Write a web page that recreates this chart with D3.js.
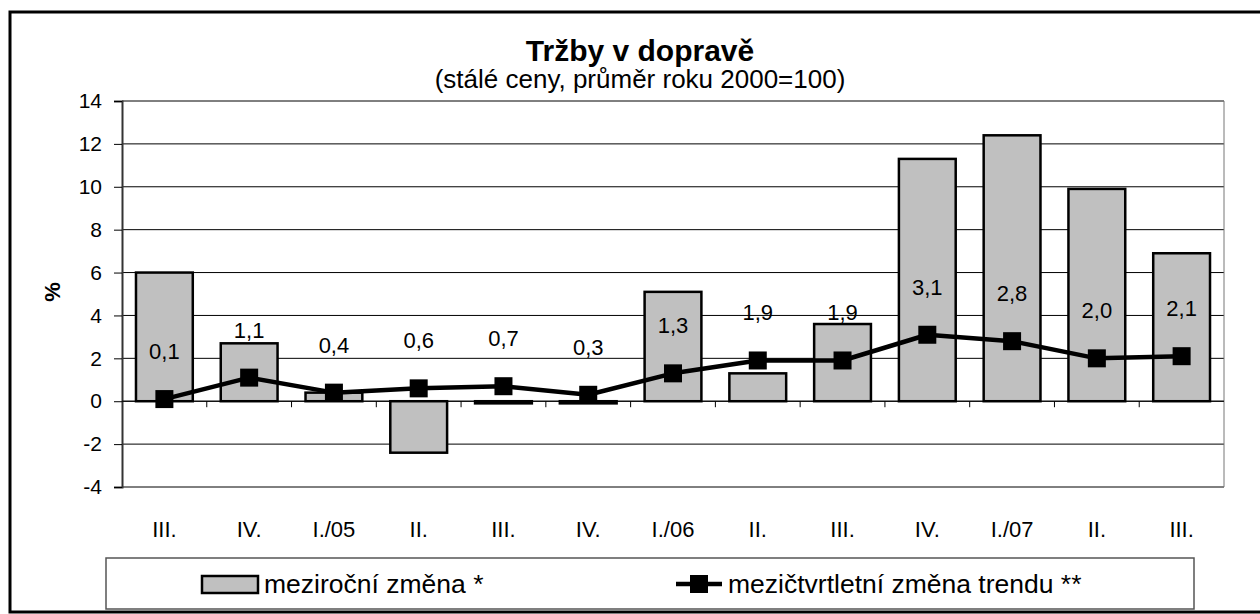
<!DOCTYPE html>
<html>
<head>
<meta charset="utf-8">
<script src="https://cdn.jsdelivr.net/npm/d3@7"></script>
<style>
  body { margin: 0; background: #fff; }
  svg text { font-family: "Liberation Sans", Arial, sans-serif; fill: #000; }
</style>
</head>
<body>
<div id="chart"></div>
<script>
const categories = ["III.", "IV.", "I./05", "II.", "III.", "IV.", "I./06", "II.", "III.", "IV.", "I./07", "II.", "III."];
const yearlyChange = [6.0, 2.7, 0.4, -2.4, -0.1, -0.1, 5.1, 1.3, 3.6, 11.3, 12.4, 9.9, 6.9];
const trendChange = [0.1, 1.1, 0.4, 0.6, 0.7, 0.3, 1.3, 1.9, 1.9, 3.1, 2.8, 2.0, 2.1];
const yTicks = [-4, -2, 0, 2, 4, 6, 8, 10, 12, 14];
const seriesNames = ["meziroční změna *", "mezičtvrtletní změna trendu **"];

const W = 1260, H = 614;
const plot = { left: 122, right: 1224, top: 101, bottom: 487 };

const svg = d3.select("#chart").append("svg")
  .attr("width", W).attr("height", H);

// outer frame (right edge runs off the picture)
svg.append("rect")
  .attr("x", 10).attr("y", 12)
  .attr("width", W + 20).attr("height", 600)
  .attr("fill", "none").attr("stroke", "#000").attr("stroke-width", 3);

svg.append("text")
  .attr("x", 640).attr("y", 61)
  .attr("text-anchor", "middle")
  .style("font-size", "30px").style("font-weight", "bold")
  .text("Tržby v dopravě");

svg.append("text")
  .attr("x", 640).attr("y", 88)
  .attr("text-anchor", "middle")
  .style("font-size", "26px")
  .text("(stálé ceny, průměr roku 2000=100)");

const x = d3.scaleBand()
  .domain(d3.range(categories.length))
  .range([plot.left, plot.right])
  .paddingInner(0.33).paddingOuter(0.165);

const xEdge = d3.scaleLinear()
  .domain([0, categories.length])
  .range([plot.left, plot.right]);

const y = d3.scaleLinear()
  .domain([-4, 14])
  .range([plot.bottom, plot.top]);

// gridlines
svg.append("g")
  .selectAll("line")
  .data(yTicks)
  .join("line")
  .attr("x1", plot.left).attr("x2", plot.right)
  .attr("y1", d => y(d)).attr("y2", d => y(d))
  .attr("stroke", "#000").attr("stroke-width", 1);

// right border of plot area
svg.append("line")
  .attr("x1", plot.right).attr("x2", plot.right)
  .attr("y1", plot.top).attr("y2", plot.bottom)
  .attr("stroke", "#777").attr("stroke-width", 1);

// y axis
const yAxis = svg.append("g")
  .attr("transform", `translate(${plot.left},0)`)
  .call(d3.axisLeft(y).tickValues(yTicks).tickFormat(d => String(d)).tickSize(8).tickPadding(12));
yAxis.select(".domain").attr("stroke", "#333").attr("stroke-width", 2);
yAxis.selectAll(".tick line").attr("stroke", "#000");
yAxis.selectAll("text")
  .style("font-size", "21px")
  .style("font-family", "'Liberation Sans', Arial, sans-serif");

svg.append("text")
  .attr("transform", `translate(60,292) rotate(-90)`)
  .attr("text-anchor", "middle")
  .style("font-size", "22px").style("font-weight", "bold")
  .text("%");

// bars
svg.append("g")
  .selectAll("rect")
  .data(yearlyChange)
  .join("rect")
  .attr("x", (d, i) => x(i))
  .attr("width", x.bandwidth())
  .attr("y", d => y(Math.max(0, d)))
  .attr("height", d => Math.abs(y(d) - y(0)))
  .attr("fill", "#c0c0c0")
  .attr("stroke", "#000").attr("stroke-width", 2.5);

// x axis on zero line
svg.append("line")
  .attr("x1", plot.left).attr("x2", plot.right)
  .attr("y1", y(0)).attr("y2", y(0))
  .attr("stroke", "#000").attr("stroke-width", 1);

svg.append("g")
  .selectAll("line")
  .data(d3.range(1, categories.length))
  .join("line")
  .attr("x1", d => xEdge(d)).attr("x2", d => xEdge(d))
  .attr("y1", y(0)).attr("y2", y(0) + 6)
  .attr("stroke", "#000");

svg.append("g")
  .selectAll("text")
  .data(categories)
  .join("text")
  .attr("x", (d, i) => x(i) + x.bandwidth() / 2)
  .attr("y", 537)
  .attr("text-anchor", "middle")
  .style("font-size", "22px")
  .text(d => d);

// trend line
const cx = i => x(i) + x.bandwidth() / 2;
const line = d3.line()
  .x((d, i) => cx(i))
  .y(d => y(d));

svg.append("path")
  .datum(trendChange)
  .attr("d", line)
  .attr("fill", "none")
  .attr("stroke", "#000")
  .attr("stroke-width", 4.5)
  .attr("stroke-linejoin", "round");

const mk = 18;
svg.append("g")
  .selectAll("rect")
  .data(trendChange)
  .join("rect")
  .attr("x", (d, i) => cx(i) - mk / 2)
  .attr("y", d => y(d) - mk / 2)
  .attr("width", mk).attr("height", mk)
  .attr("fill", "#000");

svg.append("g")
  .selectAll("text")
  .data(trendChange)
  .join("text")
  .attr("x", (d, i) => cx(i))
  .attr("y", d => y(d) - 40)
  .attr("text-anchor", "middle")
  .style("font-size", "22px")
  .text(d => d3.format(".1f")(d).replace(".", ","));

// legend
const lg = svg.append("g");
lg.append("rect")
  .attr("x", 106).attr("y", 558)
  .attr("width", 1088).attr("height", 51)
  .attr("fill", "#fff").attr("stroke", "#555").attr("stroke-width", 1.5);

lg.append("rect")
  .attr("x", 202).attr("y", 576)
  .attr("width", 56).attr("height", 17)
  .attr("fill", "#c0c0c0").attr("stroke", "#000").attr("stroke-width", 2.5);
lg.append("text")
  .attr("x", 264).attr("y", 593)
  .style("font-size", "26.5px")
  .text(seriesNames[0]);

lg.append("line")
  .attr("x1", 676).attr("x2", 722)
  .attr("y1", 584).attr("y2", 584)
  .attr("stroke", "#000").attr("stroke-width", 4.5);
lg.append("rect")
  .attr("x", 699 - mk / 2).attr("y", 584 - mk / 2)
  .attr("width", mk).attr("height", mk)
  .attr("fill", "#000");
lg.append("text")
  .attr("x", 728).attr("y", 593)
  .style("font-size", "26.5px")
  .text(seriesNames[1]);
</script>
</body>
</html>
